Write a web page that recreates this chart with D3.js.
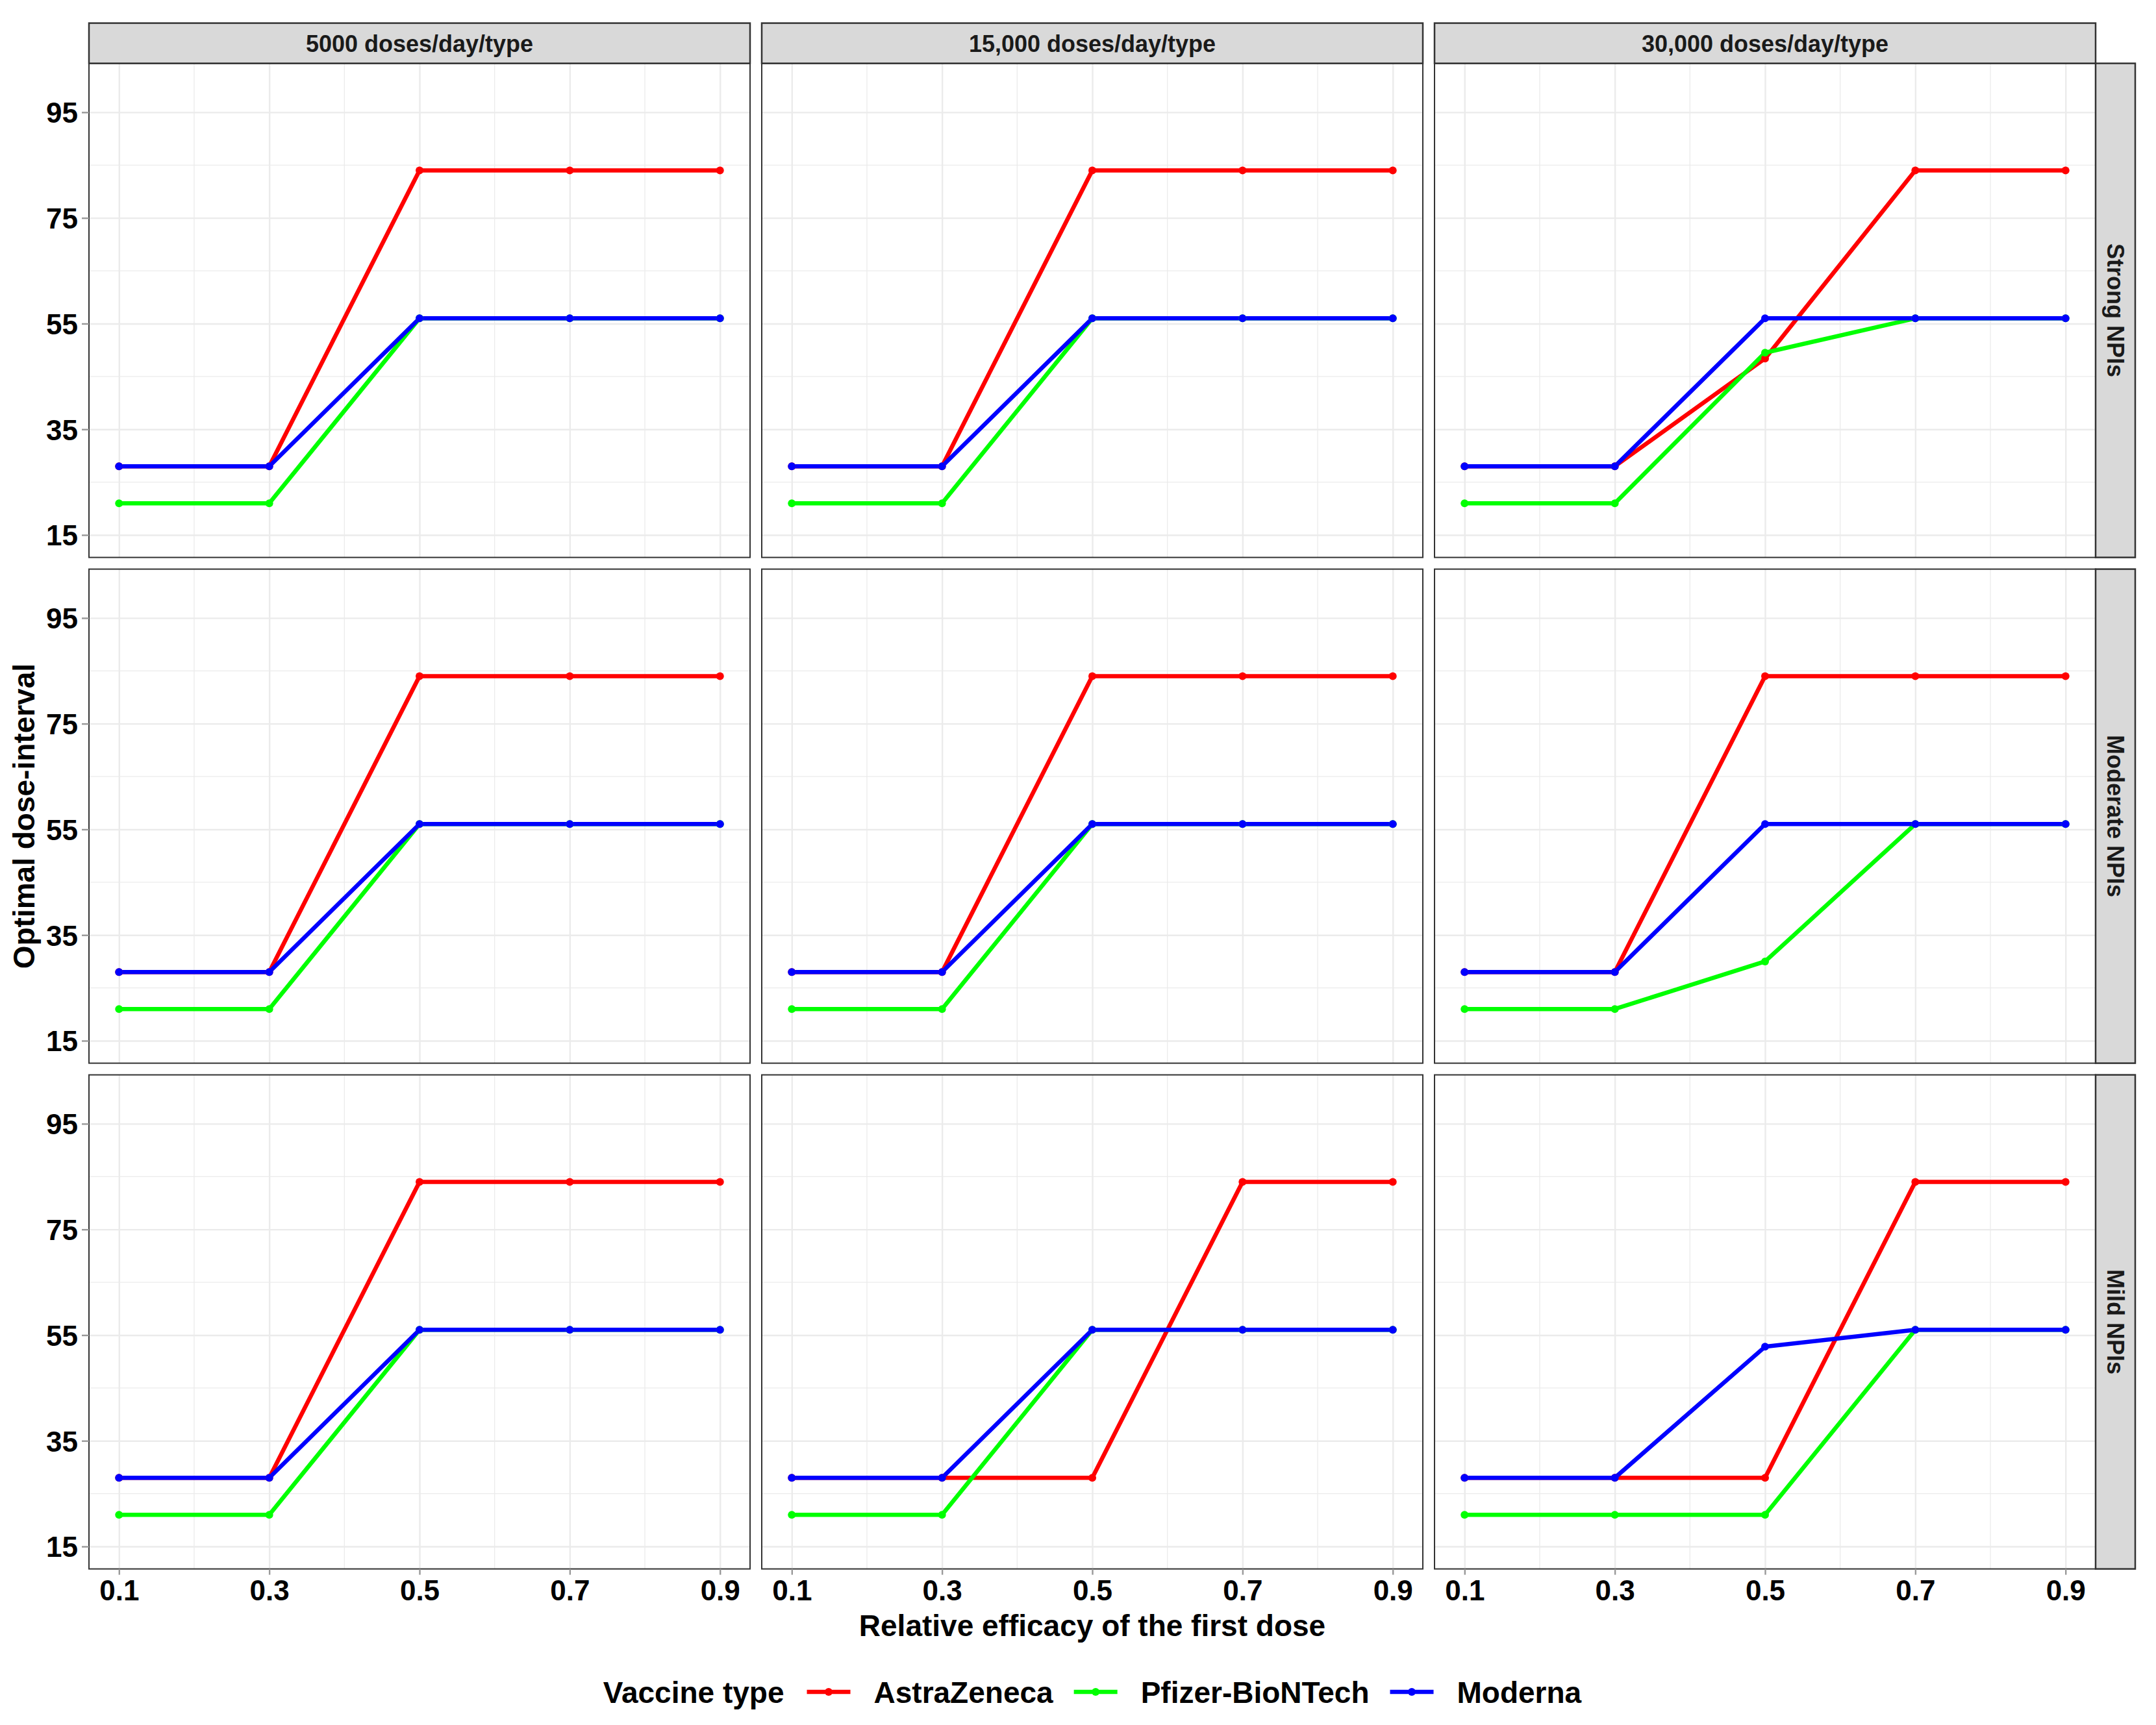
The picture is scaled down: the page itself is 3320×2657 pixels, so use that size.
<!DOCTYPE html>
<html>
<head>
<meta charset="utf-8">
<script src="https://cdn.jsdelivr.net/npm/d3@7"></script>
<style>
  body { margin: 0; background: #fff; }
  text { font-family: "Liberation Sans", Arial, sans-serif; font-weight: bold; }
</style>
</head>
<body>
<svg id="svgContent" width="3320" height="2657"></svg>
<script>
// chart data
const efficacy = [0.1, 0.3, 0.5, 0.7, 0.9]
const doseLevels = ["5000 doses/day/type", "15,000 doses/day/type", "30,000 doses/day/type"]
const npiLevels = ["Strong NPIs", "Moderate NPIs", "Mild NPIs"]
const vaccineTypes = ["AstraZeneca", "Pfizer-BioNTech", "Moderna"]
const vaccineColors = ["#FF0000", "#00FF00", "#0000FF"]
const yTicks = [15, 35, 55, 75, 95]
const xTicks = [0.1, 0.3, 0.5, 0.7, 0.9]

// rows = Strong, Moderate, Mild NPIs; columns = 5000, 15,000, 30,000 doses
const astraZeneca = [
    [[28, 28, 84, 84, 84], [28, 28, 84, 84, 84], [28, 28, 48.4, 84, 84]],
    [[28, 28, 84, 84, 84], [28, 28, 84, 84, 84], [28, 28, 84, 84, 84]],
    [[28, 28, 84, 84, 84], [28, 28, 28, 84, 84], [28, 28, 28, 84, 84]]
]
const pfizer = [
    [[21, 21, 56, 56, 56], [21, 21, 56, 56, 56], [21, 21, 49.5, 56, 56]],
    [[21, 21, 56, 56, 56], [21, 21, 56, 56, 56], [21, 21, 30, 56, 56]],
    [[21, 21, 56, 56, 56], [21, 21, 56, 56, 56], [21, 21, 21, 56, 56]]
]
const moderna = [
    [[28, 28, 56, 56, 56], [28, 28, 56, 56, 56], [28, 28, 56, 56, 56]],
    [[28, 28, 56, 56, 56], [28, 28, 56, 56, 56], [28, 28, 56, 56, 56]],
    [[28, 28, 56, 56, 56], [28, 28, 56, 56, 56], [28, 28, 52.8, 56, 56]]
]
const seriesValues = [astraZeneca, pfizer, moderna]

const svg = d3.select('#svgContent')

// layout
const plotLeft = 137, plotTop = 97.6
const panelW = 1018, panelH = 761, gap = 18
const stripH = 62, stripW = 61

const x = d3.scaleLinear().domain([0.06, 0.94]).range([0, panelW])
const y = d3.scaleLinear().domain([10.75, 104.25]).range([panelH, 0])

const line = d3.line()
    .x((d, i) => x(efficacy[i]))
    .y(d => y(d))

npiLevels.forEach((npi, r) => {
    doseLevels.forEach((dose, c) => {
        const px = plotLeft + c * (panelW + gap)
        const py = plotTop + r * (panelH + gap)
        const g = svg.append('g').attr('transform', `translate(${px},${py})`)

        // minor grid
        g.selectAll('.minorY')
            .data([25, 45, 65, 85])
            .join('line')
            .attr('x1', 0).attr('x2', panelW)
            .attr('y1', d => y(d)).attr('y2', d => y(d))
            .style('stroke', '#EBEBEB').style('stroke-width', 1.3)
        g.selectAll('.minorX')
            .data([0.2, 0.4, 0.6, 0.8])
            .join('line')
            .attr('y1', 0).attr('y2', panelH)
            .attr('x1', d => x(d)).attr('x2', d => x(d))
            .style('stroke', '#EBEBEB').style('stroke-width', 1.3)

        // major grid
        g.append('g')
            .call(d3.axisLeft(y).tickValues(yTicks).tickSize(-panelW).tickFormat(''))
            .call(a => a.select('.domain').remove())
            .selectAll('line').style('stroke', '#EBEBEB').style('stroke-width', 2.4)
        g.append('g')
            .call(d3.axisBottom(x).tickValues(xTicks).tickSize(panelH).tickFormat(''))
            .call(a => a.select('.domain').remove())
            .selectAll('line').style('stroke', '#EBEBEB').style('stroke-width', 2.4)

        // series lines, then points
        seriesValues.forEach((vals, k) => {
            g.append('path')
                .datum(vals[r][c])
                .attr('d', line)
                .attr('fill', 'none')
                .style('stroke', vaccineColors[k])
                .style('stroke-width', 6.5)
                .style('stroke-linejoin', 'round')
        })
        seriesValues.forEach((vals, k) => {
            g.selectAll('.pt' + k)
                .data(vals[r][c])
                .join('circle')
                .attr('cx', (d, i) => x(efficacy[i]))
                .attr('cy', d => y(d))
                .attr('r', 6)
                .attr('fill', vaccineColors[k])
        })

        // panel border
        g.append('rect')
            .attr('width', panelW).attr('height', panelH)
            .attr('fill', 'none')
            .style('stroke', '#333333').style('stroke-width', 2)

        // y axis on first column
        if (c === 0) {
            const ay = g.append('g')
                .call(d3.axisLeft(y).tickValues(yTicks).tickSize(11).tickPadding(6))
            ay.select('.domain').remove()
            ay.selectAll('line').style('stroke', '#999999').style('stroke-width', 2.4)
            ay.selectAll('text')
                .style('font-size', '44px')
                .style('fill', '#000')
                .attr('dy', '0.36em')
        }
        // x axis on bottom row
        if (r === npiLevels.length - 1) {
            const ax = g.append('g')
                .attr('transform', `translate(0,${panelH})`)
                .call(d3.axisBottom(x).tickValues(xTicks).tickSize(9).tickPadding(8))
            ax.select('.domain').remove()
            ax.selectAll('line').style('stroke', '#999999').style('stroke-width', 2.4)
            ax.selectAll('text')
                .style('font-size', '44px')
                .style('fill', '#000')
                .attr('dy', '0.72em')
        }

        // column strips
        if (r === 0) {
            g.append('rect')
                .attr('y', -stripH).attr('width', panelW).attr('height', stripH)
                .attr('fill', '#D9D9D9')
                .style('stroke', '#333333').style('stroke-width', 2.5)
            g.append('text')
                .attr('x', panelW / 2).attr('y', -stripH / 2 + 13)
                .attr('text-anchor', 'middle')
                .style('font-size', '36px').style('fill', '#1A1A1A')
                .text(dose)
        }
        // row strips
        if (c === doseLevels.length - 1) {
            g.append('rect')
                .attr('x', panelW).attr('width', stripW).attr('height', panelH)
                .attr('fill', '#D9D9D9')
                .style('stroke', '#333333').style('stroke-width', 2.5)
            g.append('text')
                .attr('transform', `translate(${panelW + stripW / 2},${panelH / 2}) rotate(90)`)
                .attr('y', 13)
                .attr('text-anchor', 'middle')
                .style('font-size', '36px').style('fill', '#1A1A1A')
                .text(npi)
        }
    })
})

const plotRight = plotLeft + 3 * panelW + 2 * gap
const plotBottom = plotTop + 3 * panelH + 2 * gap
const centerX = (plotLeft + plotRight) / 2

// axis titles
svg.append('text')
    .attr('x', centerX).attr('y', 2520)
    .attr('text-anchor', 'middle')
    .style('font-size', '46px')
    .text('Relative efficacy of the first dose')

svg.append('text')
    .attr('transform', `translate(36,${(plotTop + plotBottom) / 2}) rotate(-90)`)
    .attr('y', 16.5)
    .attr('text-anchor', 'middle')
    .style('font-size', '46px')
    .text('Optimal dose-interval')

// legend
const legend = svg.append('g')
const legendY = 2623, keyY = 2606
let cursor = 0
const title = legend.append('text')
    .attr('x', cursor).attr('y', legendY)
    .style('font-size', '46px')
    .text('Vaccine type')
cursor += title.node().getComputedTextLength() + 35

vaccineTypes.forEach((name, k) => {
    legend.append('line')
        .attr('x1', cursor).attr('x2', cursor + 67)
        .attr('y1', keyY).attr('y2', keyY)
        .style('stroke', vaccineColors[k]).style('stroke-width', 6.5)
    legend.append('circle')
        .attr('cx', cursor + 33.5).attr('cy', keyY).attr('r', 6)
        .attr('fill', vaccineColors[k])
    cursor += 67 + 36
    const label = legend.append('text')
        .attr('x', cursor).attr('y', legendY)
        .style('font-size', '46px')
        .text(name)
    cursor += label.node().getComputedTextLength() + 32
})
cursor -= 32
legend.attr('transform', `translate(${centerX - cursor / 2},0)`)
</script>
</body>
</html>
